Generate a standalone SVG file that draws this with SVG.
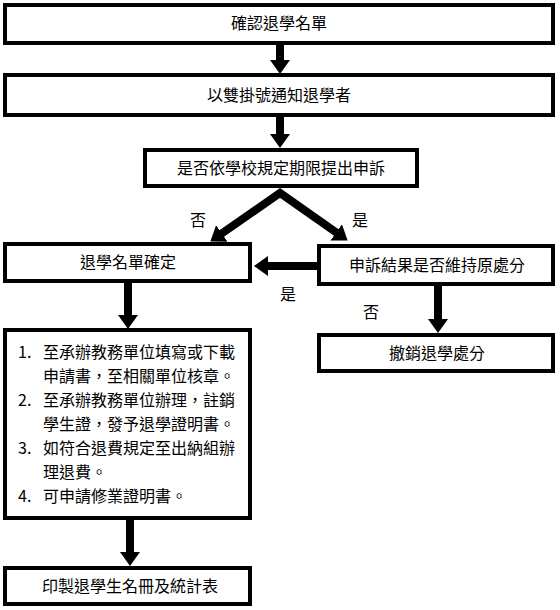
<svg xmlns="http://www.w3.org/2000/svg" width="560" height="610" viewBox="0 0 560 610">
<style>
.box{fill:#fff;stroke:#000;stroke-width:4}
.t{font-family:"Noto Sans CJK TC","Noto Sans CJK SC",sans-serif;font-size:16px;fill:#000}
.c{text-anchor:middle}
.ar{fill:none;stroke:#000;stroke-width:8;marker-end:url(#ah)}
</style>
<defs>
<marker id="ah" markerUnits="userSpaceOnUse" markerWidth="14" markerHeight="20" viewBox="0 0 14 20" refX="1" refY="10" orient="auto-start-reverse">
<path d="M0,0 L14,10 L0,20 Z" fill="#000"/>
</marker>
</defs>
<g id="connectors">
<line class="ar" x1="280" y1="43" x2="280" y2="61"/>
<line class="ar" x1="280" y1="116" x2="280" y2="135"/>
<path d="M221,234 L280,193 L337,233" fill="none" stroke="#000" stroke-width="8" stroke-linejoin="miter" marker-start="url(#ah)" marker-end="url(#ah)"/>
<line class="ar" x1="318" y1="266" x2="267" y2="266"/>
<line class="ar" x1="128" y1="282" x2="128" y2="316"/>
<line class="ar" x1="438" y1="285" x2="438" y2="320"/>
<line class="ar" x1="130" y1="518" x2="130" y2="553"/>
<text class="t c" x="198" y="226">否</text>
<text class="t c" x="360" y="226">是</text>
<text class="t c" x="288" y="300">是</text>
<text class="t c" x="371" y="318">否</text>
</g>
<g id="n1"><rect class="box" x="5" y="5" width="548" height="38"/><text class="t c" x="279" y="29">確認退學名單</text></g>
<g id="n2"><rect class="box" x="5" y="75" width="548" height="40"/><text class="t c" x="279" y="101">以雙掛號通知退學者</text></g>
<g id="n3"><rect class="box" x="145" y="150" width="272" height="36"/><text class="t c" x="281" y="174">是否依學校規定期限提出申訴</text></g>
<g id="n4"><rect class="box" x="5" y="244" width="245" height="37"/><text class="t c" x="128" y="268">退學名單確定</text></g>
<g id="n5"><rect class="box" x="319" y="246" width="234" height="38"/><text class="t c" x="437" y="271">申訴結果是否維持原處分</text></g>
<g id="n6"><rect class="box" x="5" y="330" width="245" height="188"/>
<text class="t" x="18" y="358">1.</text><text class="t" x="43" y="358">至承辦教務單位填寫或下載</text>
<text class="t" x="43" y="382">申請書，至相關單位核章。</text>
<text class="t" x="18" y="406">2.</text><text class="t" x="43" y="406">至承辦教務單位辦理，註銷</text>
<text class="t" x="43" y="430">學生證，發予退學證明書。</text>
<text class="t" x="18" y="454">3.</text><text class="t" x="43" y="454">如符合退費規定至出納組辦</text>
<text class="t" x="43" y="478">理退費。</text>
<text class="t" x="18" y="502">4.</text><text class="t" x="43" y="502">可申請修業證明書。</text>
</g>
<g id="n7"><rect class="box" x="319" y="335" width="234" height="36"/><text class="t c" x="437" y="359">撤銷退學處分</text></g>
<g id="n8"><rect class="box" x="5" y="568" width="245" height="36"/><text class="t c" x="130" y="592">印製退學生名冊及統計表</text></g>
</svg>
